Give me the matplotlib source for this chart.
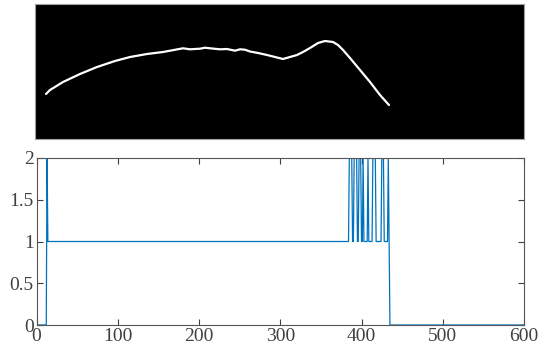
import numpy as np
import matplotlib
matplotlib.use("Agg")
from matplotlib import pyplot as plt

# top panel: traced white curve, in pixel coords of the panel image
curve_x = [46, 50, 63, 80, 97, 115, 130, 147, 163, 170, 183, 190, 200, 205, 210,
           220, 227, 235, 240, 245, 250, 258, 267, 275, 283, 290, 297, 303, 310,
           318, 325, 333, 338, 343, 350, 360, 370, 380, 389]
curve_y = [94, 90, 82, 74, 67, 61, 57, 54, 52, 50.7, 48.3, 49.3, 48.7, 47.7, 48.3,
           49.3, 49, 50.7, 49.3, 49.7, 51.5, 53, 55, 57, 59, 57, 55, 52, 48,
           43, 41, 42, 45, 50, 58, 70, 82, 95, 105]

# bottom panel: step signal, segments (start, end, level)
seg_start = [0, 13, 14, 385, 389, 391, 395, 397, 400, 402, 403, 408, 409, 414, 418, 425, 428, 433, 434, 435]
seg_end = [12, 13, 384, 388, 390, 394, 396, 399, 401, 402, 407, 408, 413, 417, 424, 427, 432, 433, 434, 600]
seg_level = [0, 2, 1, 2, 1, 2, 1, 2, 1, 2, 1, 2, 1, 2, 1, 2, 1, 2, 1, 0]

n = np.arange(0, 601)
sig = np.zeros(len(n))
for a, b, v in zip(seg_start, seg_end, seg_level):
    sig[a:b + 1] = v

plt.rcParams['font.family'] = ['Liberation Serif', 'DejaVu Serif']

fig = plt.figure(figsize=(5.5, 3.51), dpi=100)

ax1 = fig.add_axes([35 / 550, 1 - 139 / 351, 489 / 550, 135 / 351])
ax1.set_facecolor('black')
ax1.plot(curve_x, curve_y, color='white', lw=1.6, solid_capstyle='round')
ax1.set_xlim(35, 524)
ax1.set_ylim(139, 4)
ax1.set_xticks([])
ax1.set_yticks([])
for s in ax1.spines.values():
    s.set_color('#a0a0a0')
    s.set_linewidth(0.8)

ax2 = fig.add_axes([36.5 / 550, 1 - 325 / 351, 487.5 / 550, 167 / 351])
ax2.plot(n, sig, color='#0072BD', lw=0.9)
ax2.set_xlim(0, 600)
ax2.set_ylim(0, 2)
ax2.set_xticks([0, 100, 200, 300, 400, 500, 600])
ax2.set_yticks([0, 0.5, 1, 1.5, 2])
ax2.set_yticklabels(['0', '0.5', '1', '1.5', '2'])
ax2.tick_params(direction='in', top=True, right=True, length=4, width=0.8,
                labelsize=14, colors='#404040', pad=2)
for s in ax2.spines.values():
    s.set_color('#555555')
    s.set_linewidth(0.8)

fig.savefig('out.png', dpi=100)
